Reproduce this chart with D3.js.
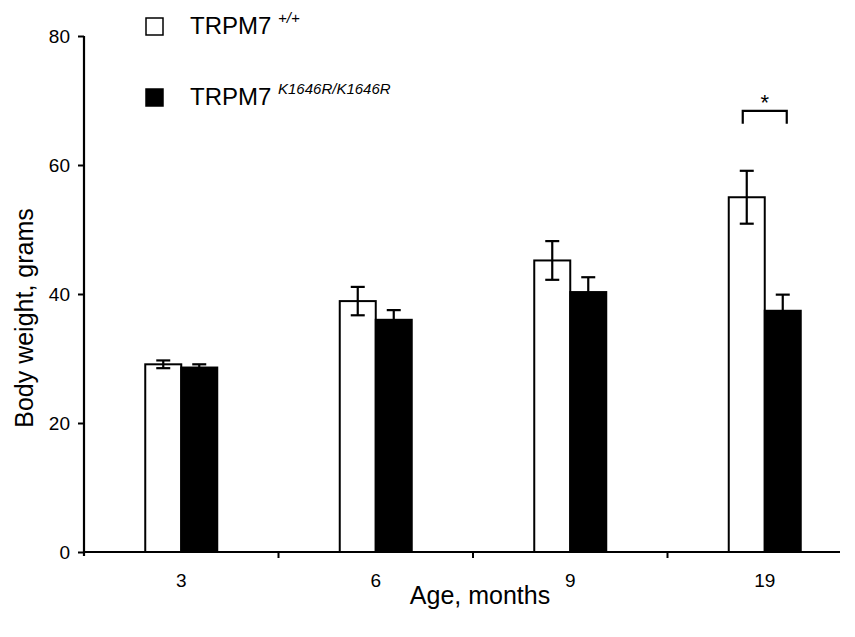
<!DOCTYPE html>
<html>
<head>
<meta charset="utf-8">
<script src="https://cdn.jsdelivr.net/npm/d3@7"></script>
<style>
  body { margin: 0; background: #fff; }
  text { font-family: "Liberation Sans", Arial, sans-serif; fill: #000; }
</style>
</head>
<body>
<script>
// chart data
var ages = ["3", "6", "9", "19"];
var groups = ["wt", "ki"];
var wtMean = [29.1, 38.9, 45.2, 55.0];
var wtErr = [0.6, 2.2, 3.0, 4.1];
var kiMean = [28.6, 36.0, 40.3, 37.4];
var kiErr = [0.5, 1.5, 2.3, 2.5];
var yTicks = [0, 20, 40, 60, 80];

var width = 855,
    height = 637;

var svg = d3.select("body")
    .append("svg")
    .attr("width", width)
    .attr("height", height);

var x = d3.scaleBand()
    .domain(ages)
    .range([84, 862])
    .padding(0);

var xInner = d3.scaleBand()
    .domain(groups)
    .range([x.bandwidth() / 2 - 36, x.bandwidth() / 2 + 36]);

var y = d3.scaleLinear()
    .domain([0, 80])
    .range([552, 36]);

var rows = ages.map(function(a, i){
    return [
        {age: a, g: "wt", v: wtMean[i], e: wtErr[i]},
        {age: a, g: "ki", v: kiMean[i], e: kiErr[i]}
    ];
});

//bars
var grp = svg.selectAll(".age")
    .data(rows)
    .enter()
    .append("g")
    .attr("transform", function(d){ return "translate(" + x(d[0].age) + ",0)"; });

grp.selectAll("rect")
    .data(function(d){ return d; })
    .enter()
    .append("rect")
    .attr("x", function(d){ return xInner(d.g); })
    .attr("y", function(d){ return y(d.v); })
    .attr("width", xInner.bandwidth())
    .attr("height", function(d){ return y(0) - y(d.v); })
    .attr("fill", function(d){ return d.g == "wt" ? "#fff" : "#000"; })
    .attr("stroke", "#000")
    .attr("stroke-width", 2);

//error bars
var err = grp.selectAll(".err")
    .data(function(d){ return d; })
    .enter()
    .append("g")
    .attr("class", "err")
    .attr("stroke", "#000")
    .attr("stroke-width", 2.2);

err.append("line")
    .attr("x1", function(d){ return xInner(d.g) + xInner.bandwidth() / 2; })
    .attr("x2", function(d){ return xInner(d.g) + xInner.bandwidth() / 2; })
    .attr("y1", function(d){ return y(d.v + d.e); })
    .attr("y2", function(d){ return y(d.v - d.e); });

err.selectAll(".cap")
    .data(function(d){ return [d.v + d.e, d.v - d.e].map(function(v){ return {g: d.g, v: v}; }); })
    .enter()
    .append("line")
    .attr("x1", function(d){ return xInner(d.g) + xInner.bandwidth() / 2 - 7; })
    .attr("x2", function(d){ return xInner(d.g) + xInner.bandwidth() / 2 + 7; })
    .attr("y1", function(d){ return y(d.v); })
    .attr("y2", function(d){ return y(d.v); });

//axes
var yAxis = svg.append("g")
    .attr("transform", "translate(84,0)")
    .call(d3.axisLeft(y).tickValues(yTicks).tickSize(6).tickSizeOuter(0));
yAxis.select(".domain").attr("d", "M0,36V556").attr("stroke-width", 2.2);
yAxis.selectAll(".tick line").attr("stroke-width", 2);
yAxis.selectAll(".tick text")
    .attr("x", -14)
    .attr("dy", "0.35em")
    .style("font-size", "19px");

var xAxis = svg.append("g")
    .attr("transform", "translate(0,552)")
    .call(d3.axisBottom(x).tickSize(0).tickSizeOuter(0));
xAxis.select(".domain").attr("d", "M84,0H840").attr("stroke-width", 2.2);
xAxis.selectAll(".tick text")
    .attr("y", 35)
    .attr("dy", 0)
    .style("font-size", "19px");

//tick marks between categories
svg.selectAll(".sep")
    .data(ages.slice(1))
    .enter()
    .append("line")
    .attr("x1", function(d){ return x(d); })
    .attr("x2", function(d){ return x(d); })
    .attr("y1", 552)
    .attr("y2", 558)
    .attr("stroke", "#000")
    .attr("stroke-width", 2);

//axis titles
svg.append("text")
    .attr("x", 480)
    .attr("y", 604)
    .attr("text-anchor", "middle")
    .style("font-size", "25px")
    .text("Age, months");

svg.append("text")
    .attr("transform", "translate(33,318) rotate(-90)")
    .attr("text-anchor", "middle")
    .style("font-size", "25px")
    .text("Body weight, grams");

//significance bracket
var sx0 = x("19") + xInner("wt") + xInner.bandwidth() / 2 - 4,
    sx1 = x("19") + xInner("ki") + xInner.bandwidth() / 2 + 4;
svg.append("path")
    .attr("d", "M" + sx0 + "," + y(66.4) + "V" + y(68.4) + "H" + sx1 + "V" + y(66.4))
    .attr("fill", "none")
    .attr("stroke", "#000")
    .attr("stroke-width", 2.2);
svg.append("text")
    .attr("x", (sx0 + sx1) / 2)
    .attr("y", 110)
    .attr("text-anchor", "middle")
    .style("font-size", "22px")
    .text("*");

//legend
var legend = [
    {fill: "#fff", sup: "+/+", y: 18},
    {fill: "#000", sup: "K1646R/K1646R", y: 89}
];
var lg = svg.selectAll(".legend")
    .data(legend)
    .enter()
    .append("g")
    .attr("transform", function(d){ return "translate(146," + d.y + ")"; });
lg.append("rect")
    .attr("width", 17)
    .attr("height", 17)
    .attr("fill", function(d){ return d.fill; })
    .attr("stroke", "#000")
    .attr("stroke-width", 1.5);
var lt = lg.append("text")
    .attr("x", 44)
    .attr("y", 16)
    .style("font-size", "24px");
lt.append("tspan").text("TRPM7 ");
lt.append("tspan")
    .attr("dy", -11)
    .style("font-size", "15px")
    .style("font-style", "italic")
    .text(function(d){ return d.sup; });
</script>
</body>
</html>
